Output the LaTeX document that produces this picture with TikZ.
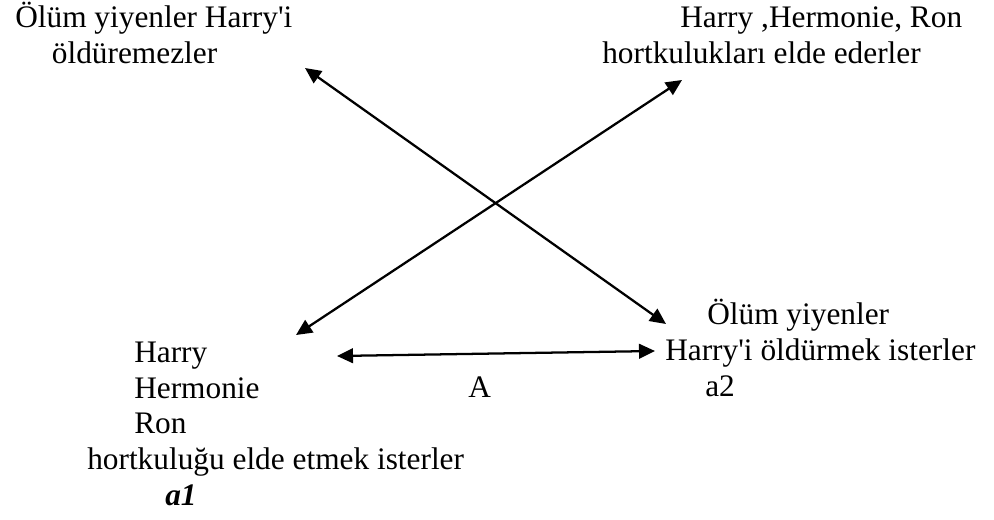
\documentclass[tikz,border=0pt]{standalone}
\usepackage{fontspec}
\setmainfont{Liberation Serif}
\usetikzlibrary{arrows.meta}

\begin{document}
\begin{tikzpicture}[x=0.75pt,y=-0.75pt,
  txt/.style={align=left,anchor=base west,inner sep=0pt,
              font=\fontsize{23.5pt}{26.7pt}\selectfont},
  ar/.style={{Triangle[length=12pt,width=11pt]}-{Triangle[length=12pt,width=11pt]},
             line width=1.7pt}
]
\useasboundingbox (0,0) rectangle (994,520);

% text blocks (placed at the baseline of their last line)
\node[txt] (olmez) at (15,63.3) {Ölüm yiyenler Harry\textquotesingle i\\\hspace*{27.5pt}öldüremezler};
\node[txt] (elde) at (602,63.3) {\hspace*{58.5pt}Harry ,Hermonie, Ron\\hortkulukları elde ederler};
\node[txt] (istr1) at (87,505) {\hspace*{35.25pt}Harry\\\hspace*{35.25pt}Hermonie\\\hspace*{35.25pt}Ron\\hortkuluğu elde etmek isterler\\\hspace*{58.5pt}\textbf{\textit{a1}}};
\node[txt] (istr2) at (665,396) {\hspace*{31.5pt}Ölüm yiyenler\\Harry\textquotesingle i öldürmek isterler\\\hspace*{30pt}a2};
\node[txt] (lblA) at (468,397) {A};

% arrow ends
\coordinate (aTL) at (305,68);
\coordinate (aBR) at (666,324);
\coordinate (bBL) at (296,335);
\coordinate (bTR) at (682,80);
\coordinate (cL) at (337,356);
\coordinate (cR) at (655,351);

\draw[ar] (aTL) -- (aBR);
\draw[ar] (bBL) -- (bTR);
\draw[ar] (cL) -- (cR);
\end{tikzpicture}
\end{document}
